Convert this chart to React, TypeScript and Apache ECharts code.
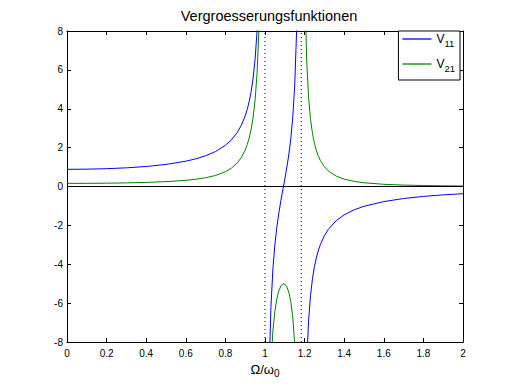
import React, { useEffect, useRef } from "react";
import * as echarts from "echarts";

// Frequency ratio Omega/omega0, split into three branches between the two resonances
const omegaLeft = [0, 0.1, 0.2, 0.3, 0.4, 0.5, 0.6, 0.65, 0.7, 0.75, 0.8, 0.83, 0.86, 0.88, 0.9, 0.91, 0.92, 0.93, 0.94, 0.95, 0.96, 0.97, 0.98];
const v11Left = [0.884, 0.892, 0.916, 0.96, 1.03, 1.136, 1.302, 1.422, 1.58, 1.799, 2.119, 2.395, 2.781, 3.139, 3.633, 3.959, 4.365, 4.884, 5.576, 6.547, 8.019, 10.54, 15.89];
const v21Left = [0.16, 0.163, 0.171, 0.186, 0.21, 0.25, 0.318, 0.372, 0.45, 0.568, 0.76, 0.942, 1.215, 1.485, 1.878, 2.148, 2.492, 2.945, 3.564, 4.455, 5.838, 8.254, 13.48];

const omegaMid = [1.01, 1.02, 1.03, 1.04, 1.05, 1.06, 1.07, 1.08, 1.09, 1.1, 1.11, 1.12, 1.13, 1.14, 1.15, 1.16, 1.17];
const v11Mid = [-18.89, -9.754, -6.181, -4.236, -2.979, -2.069, -1.35, -0.736, -0.174, 0.378, 0.96, 1.62, 2.431, 3.523, 5.174, 8.133, 15.4];
const v21Mid = [-21.5, -12.56, -9.174, -7.435, -6.41, -5.767, -5.361, -5.12, -5.01, -5.018, -5.15, -5.428, -5.907, -6.703, -8.077, -10.75, -17.63];

const omegaRight = [1.19, 1.2, 1.21, 1.22, 1.23, 1.24, 1.25, 1.26, 1.27, 1.28, 1.3, 1.32, 1.36, 1.4, 1.45, 1.5, 1.6, 1.7, 1.8, 1.9, 2.0];
const v11Right = [-33.59, -14.18, -9.218, -6.929, -5.6, -4.726, -4.105, -3.638, -3.272, -2.977, -2.53, -2.203, -1.755, -1.458, -1.201, -1.019, -0.775, -0.618, -0.51, -0.43, -0.37];
const v21Right = [30.24, 11.1, 6.6, 4.6, 3.45, 2.72, 2.2, 1.83, 1.55, 1.33, 1.017, 0.801, 0.534, 0.379, 0.264, 0.192, 0.113, 0.073, 0.05, 0.036, 0.026];

// Reference lines
const zeroLineX = [0, 2];
const zeroLineY = [0, 0];
const resonanceOmega = [1.0, 1.183];
const yRange = [-8, 8];

const FONT = "Liberation Sans";

function branches(xsList: number[][], ysList: number[][]) {
  const out: (number | null)[][] = [];
  xsList.forEach((xs, b) => {
    if (b > 0) out.push([xs[0], null]);
    xs.forEach((x, i) => out.push([x, ysList[b][i]]));
  });
  return out;
}

export default function App() {
  const ref = useRef<HTMLDivElement>(null);
  useEffect(() => {
    if (!ref.current) return;
    const chart = echarts.init(ref.current, null, { renderer: "svg" });
    const v11Data = branches([omegaLeft, omegaMid, omegaRight], [v11Left, v11Mid, v11Right]);
    const v21Data = branches([omegaLeft, omegaMid, omegaRight], [v21Left, v21Mid, v21Right]);
    const fmt = (v: number) => String(Math.round(v * 10) / 10);
    const axisCommon = {
      type: "value" as const,
      axisLine: { show: true, onZero: false, lineStyle: { color: "#000", width: 1 } },
      axisTick: { show: true, inside: true, length: 4, lineStyle: { color: "#000", width: 1 } },
      splitLine: { show: false },
    };
    const option: any = {
      animation: false,
      backgroundColor: "#fff",
      title: {
        text: "Vergroesserungsfunktionen",
        left: 264,
        top: 3,
        textAlign: "center",
        textStyle: { fontFamily: FONT, fontSize: 14.5, fontWeight: "normal", color: "#000" },
      },
      grid: { left: 67, right: 49, top: 31, bottom: 42, containLabel: false },
      legend: {
        data: ["V11", "V21"],
        orient: "vertical",
        right: 52,
        top: 31,
        icon: "rect",
        itemWidth: 29,
        itemHeight: 1.3,
        itemGap: 9,
        padding: [2, 5, 6, 4],
        borderColor: "#000",
        borderWidth: 1,
        backgroundColor: "#fff",
        formatter: (name: string) => `{v|V}{s|${name.slice(1)}}`,
        textStyle: {
          color: "#000",
          fontFamily: FONT,
          rich: {
            v: { fontFamily: FONT, fontSize: 12, lineHeight: 12, verticalAlign: "top", color: "#000" },
            s: { fontFamily: FONT, fontSize: 9.5, lineHeight: 9, padding: [6, 0, 0, 0], verticalAlign: "top", color: "#000" },
          },
        },
      },
      xAxis: [
        {
          ...axisCommon,
          position: "bottom",
          min: 0,
          max: 2,
          interval: 0.2,
          axisLabel: { show: true, formatter: fmt, color: "#000", fontFamily: FONT, fontSize: 10, margin: 6 },
          name: "{a|Ω/ω}{b|0}",
          nameLocation: "middle",
          nameGap: 17,
          nameTextStyle: {
            color: "#000",
            fontFamily: FONT,
            rich: {
              a: { fontFamily: FONT, fontSize: 13, lineHeight: 13, verticalAlign: "top", color: "#000" },
              b: { fontFamily: FONT, fontSize: 10, lineHeight: 10, padding: [6, 0, 0, 0], verticalAlign: "top", color: "#000" },
            },
          },
        },
        {
          ...axisCommon,
          position: "top",
          min: 0,
          max: 2,
          interval: 0.2,
          axisLabel: { show: false },
        },
      ],
      yAxis: [
        {
          ...axisCommon,
          position: "left",
          min: yRange[0],
          max: yRange[1],
          interval: 2,
          axisLabel: { show: true, color: "#000", fontFamily: FONT, fontSize: 10, margin: 4 },
        },
        {
          ...axisCommon,
          position: "right",
          min: yRange[0],
          max: yRange[1],
          interval: 2,
          axisLabel: { show: false },
        },
      ],
      series: [
        {
          name: "V11",
          type: "line",
          data: v11Data,
          symbol: "none",
          connectNulls: false,
          clip: true,
          color: "#0000ff",
          lineStyle: { color: "#0000ff", width: 1 },
        },
        {
          name: "V21",
          type: "line",
          data: v21Data,
          symbol: "none",
          connectNulls: false,
          clip: true,
          color: "#008000",
          lineStyle: { color: "#008000", width: 1 },
        },
        {
          name: "zero",
          type: "line",
          data: zeroLineX.map((x, i) => [x, zeroLineY[i]]),
          symbol: "none",
          silent: true,
          lineStyle: { color: "#000", width: 1 },
        },
        ...resonanceOmega.map((w, k) => ({
          name: "res" + k,
          type: "line",
          data: [
            [w, yRange[0]],
            [w, yRange[1]],
          ],
          symbol: "none",
          silent: true,
          lineStyle: { color: "#000", width: 1, type: [1, 3] },
        })),
      ],
    };
    chart.setOption(option);
    return () => chart.dispose();
  }, []);
  return <div ref={ref} style={{ position: "fixed", left: 0, top: 0, width: 512, height: 384 }} />;
}
